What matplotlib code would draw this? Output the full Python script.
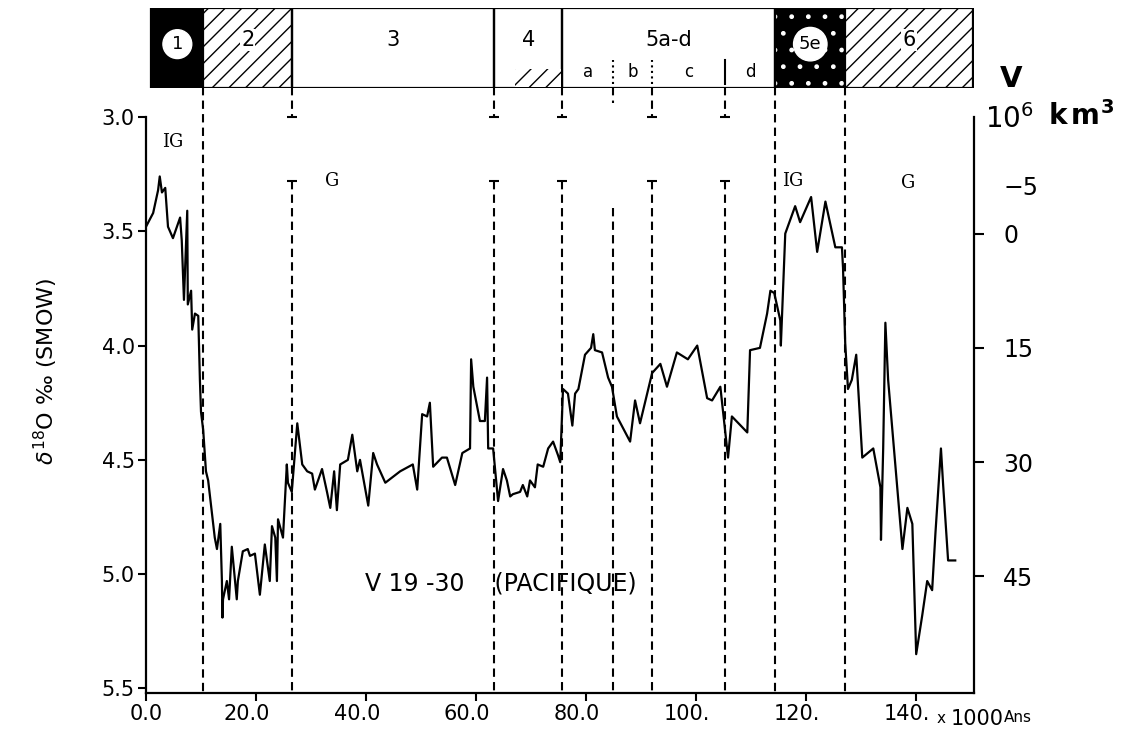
import matplotlib.pyplot as plt
import matplotlib.transforms as mtransforms
from matplotlib.patches import Rectangle

# delta 18O record of core V19-30 (Pacific)
age_kyr = [0.0, 1.3, 2.2, 2.5, 2.9, 3.5, 4.0, 4.9, 6.2, 6.5, 6.9, 7.5, 7.6, 8.2, 8.4,
           8.9, 9.5, 9.8, 10.0, 10.4, 10.9, 11.3, 12.5, 12.9, 13.5, 13.8, 13.9, 14.0,
           14.7, 15.1, 15.6, 16.5, 16.7, 17.6, 18.5, 18.9, 19.8, 20.7, 21.6, 22.5,
           22.9, 23.5, 23.8, 24.0, 24.9, 25.6, 25.8, 26.5, 27.5, 28.4, 29.3, 30.2,
           30.7, 32.0, 32.9, 33.5, 34.2, 34.7, 35.3, 36.7, 37.5, 38.4, 38.9, 40.4,
           41.3, 42.0, 43.5, 46.2, 48.5, 49.3, 50.2, 51.1, 51.6, 52.2, 53.8, 54.7,
           56.2, 57.5, 58.9, 59.1, 59.5, 60.7, 61.6, 62.0, 62.2, 63.1, 64.0, 64.9,
           65.6, 66.2, 66.7, 68.0, 68.5, 69.3, 69.8, 70.7, 71.2, 72.2, 73.1, 74.0,
           74.9, 75.3, 75.8, 76.7, 77.5, 78.0, 78.6, 79.8, 80.9, 81.3, 81.6, 82.9,
           84.0, 84.7, 85.6, 88.0, 88.9, 89.8, 92.0, 93.5, 94.7, 96.5, 98.5, 100.2,
           102.0, 102.9, 104.4, 105.8, 106.5, 109.3, 109.8, 111.6, 112.9, 113.5,
           114.2, 115.3, 115.4, 116.2, 118.0, 118.9, 120.9, 122.0, 123.5, 125.3,
           126.5, 126.7, 127.1, 127.6, 128.3, 129.1, 130.2, 132.2, 133.5, 133.6,
           134.0, 134.4, 134.9, 137.5, 138.4, 139.3, 140.0, 141.1, 142.0, 142.9,
           143.5, 144.5, 144.9, 145.8, 147.1]
d18o = [3.48, 3.42, 3.32, 3.26, 3.33, 3.31, 3.48, 3.53, 3.44, 3.54, 3.80, 3.41, 3.82,
        3.76, 3.93, 3.86, 3.87, 4.15, 4.29, 4.37, 4.55, 4.59, 4.84, 4.89, 4.78, 5.03,
        5.19, 5.11, 5.03, 5.11, 4.88, 5.11, 5.03, 4.90, 4.89, 4.92, 4.91, 5.09, 4.87,
        5.03, 4.79, 4.84, 5.03, 4.76, 4.84, 4.52, 4.60, 4.64, 4.34, 4.52, 4.55, 4.56,
        4.63, 4.54, 4.64, 4.71, 4.55, 4.72, 4.52, 4.50, 4.39, 4.55, 4.50, 4.70,
        4.47, 4.52, 4.60, 4.55, 4.52, 4.63, 4.30, 4.31, 4.25, 4.53, 4.49, 4.49,
        4.61, 4.47, 4.45, 4.06, 4.18, 4.33, 4.33, 4.14, 4.45, 4.45, 4.68, 4.54,
        4.59, 4.66, 4.65, 4.64, 4.61, 4.66, 4.59, 4.62, 4.52, 4.53, 4.45, 4.42,
        4.48, 4.51, 4.19, 4.21, 4.35, 4.21, 4.19, 4.04, 4.01, 3.95, 4.02, 4.03,
        4.14, 4.18, 4.31, 4.42, 4.24, 4.34, 4.12, 4.08, 4.18, 4.03, 4.06, 4.00,
        4.23, 4.24, 4.18, 4.49, 4.31, 4.38, 4.02, 4.01, 3.86, 3.76,
        3.77, 3.89, 4.00, 3.51, 3.39, 3.46, 3.35, 3.59, 3.37, 3.57,
        3.57, 3.66, 3.99, 4.19, 4.15, 4.04, 4.49, 4.45, 4.62, 4.85,
        4.45, 3.90, 4.15, 4.89, 4.71, 4.78, 5.35, 5.18, 5.03, 5.07,
        4.82, 4.45, 4.61, 4.94, 4.94]

x_ticks = [0, 20, 40, 60, 80, 100, 120, 140]
x_tick_labels = ["0.0", "20.0", "40.0", "60.0", "80.0", "100.", "120.", "140."]
y_ticks = [3.0, 3.5, 4.0, 4.5, 5.0, 5.5]
y_tick_labels = ["3.0", "3.5", "4.0", "4.5", "5.0", "5.5"]
vol_ticks = [0, 15, 30, 45]

# isotope stages shown in the top bar
stage_names = ["1", "2", "3", "4", "5a-d", "5e", "6"]
stage_edges = [1.0, 10.4, 26.6, 63.3, 75.7, 114.4, 127.1, 150.3]
substage_names = ["a", "b", "c", "d"]
substage_edges = [75.7, 84.9, 92.0, 105.3, 114.4]

# dashed boundaries: full ones, and ones interrupted between 3.0 and ~3.3
full_bounds = [10.4, 114.4, 127.1]
split_bounds = [26.6, 63.3, 75.7, 92.0, 105.3]

climate_labels = ["IG", "G", "IG", "G"]
climate_x = [4.9, 33.8, 117.5, 138.5]
climate_y = [3.11, 3.28, 3.28, 3.29]

fig = plt.figure(figsize=(11.37, 7.35), dpi=100)
ax = fig.add_axes([0.1284, 0.0571, 0.7282, 0.7837])
bar = fig.add_axes([0.1284, 0.880, 0.7282, 0.109])

# --- main record
ax.plot(age_kyr, d18o, color="black", lw=1.6)
ax.set_xlim(0, 150.5)
ax.set_ylim(5.52, 3.0)

dash = (0, (4, 2.5))
for xb in full_bounds:
    ax.plot([xb, xb], [2.87, 5.52], color="black", lw=1.5, linestyle=dash, clip_on=False)
for xb in split_bounds:
    ax.plot([xb, xb], [2.87, 3.0], color="black", lw=1.5, linestyle=dash, clip_on=False)
    ax.plot([xb], [3.0], marker="_", ms=7, mew=1.5, color="black", clip_on=False)
    ax.plot([xb, xb], [3.28, 5.52], color="black", lw=1.5, linestyle=dash)
    ax.plot([xb], [3.28], marker="_", ms=7, mew=1.5, color="black")
# substage a/b boundary
ax.plot([84.9, 84.9], [2.87, 2.94], color="black", lw=1.5, linestyle=dash, clip_on=False)
ax.plot([84.9, 84.9], [3.40, 5.52], color="black", lw=1.5, linestyle=dash)

for lab, xl, yl in zip(climate_labels, climate_x, climate_y):
    ax.text(xl, yl, lab, fontsize=13, ha="center", va="center", family="DejaVu Serif")

ax.text(64.5, 5.04, "V 19 -30    (PACIFIQUE)", fontsize=17, ha="center", va="center")

ax.spines["top"].set_visible(False)
ax.spines["right"].set_visible(False)
for s in ["left", "bottom"]:
    ax.spines[s].set_linewidth(1.6)
ax.set_xticks(x_ticks)
ax.set_xticklabels(x_tick_labels, fontsize=15)
ax.set_yticks(y_ticks)
ax.set_yticklabels(y_tick_labels, fontsize=15)
ax.tick_params(direction="out", length=6, width=1.5, pad=2)

# the printed tick labels sit a little left of their ticks
shift = mtransforms.ScaledTranslation(-0.09, 0, fig.dpi_scale_trans)
for lab in ax.get_xticklabels()[1:]:
    lab.set_transform(lab.get_transform() + shift)

# ice volume scale on the right
vol = ax.secondary_yaxis("right", functions=(lambda d: (d - 3.51) * 30,
                                             lambda v: v / 30 + 3.51))
vol.set_yticks(vol_ticks)
vol.set_yticklabels([str(v) for v in vol_ticks], fontsize=17)
vol.tick_params(direction="out", length=7, width=1.5, pad=14)
vol.spines["right"].set_linewidth(1.6)
ax.annotate("\u22125", xy=(1, 3.31), xycoords=ax.get_yaxis_transform(),
            xytext=(21, 0), textcoords="offset points", fontsize=17, va="center")

fig.text(0.889, 0.893, "V", fontsize=21, fontweight="bold", ha="center", va="center")
fig.text(0.866, 0.838, r"$10^6$", fontsize=20, va="center")
fig.text(0.922, 0.842, r"$\mathbf{k\,m^3}$", fontsize=20, va="center")

fig.text(0.040, 0.495, r"$\delta^{18}$O ‰ (SMOW)", fontsize=16, rotation=90,
         ha="center", va="center")
fig.text(0.824, 0.022, "x", fontsize=11, va="center")
fig.text(0.836, 0.022, "1000", fontsize=15, va="center")
fig.text(0.883, 0.024, "Ans", fontsize=11, va="center")

# --- stage bar
bar.set_xlim(0, 150.5)
bar.set_ylim(0, 1)
bar.axis("off")
for name, x0, x1 in zip(stage_names, stage_edges[:-1], stage_edges[1:]):
    if name in ("1", "5e"):
        bar.add_patch(Rectangle((x0, 0), x1 - x0, 1, facecolor="black", edgecolor="white",
                                hatch="." if name == "5e" else None, lw=0))
        bar.text((x0 + x1) / 2, 0.55, name, fontsize=13, ha="center", va="center",
                 bbox=dict(boxstyle="circle,pad=0.3", fc="white", ec="white"))
    elif name in ("2", "6"):
        bar.add_patch(Rectangle((x0, 0), x1 - x0, 1, facecolor="white", edgecolor="black",
                                hatch="//", lw=0))
        bar.text((x0 + x1) / 2, 0.6, name, fontsize=15, ha="center", va="center",
                 bbox=dict(boxstyle="square,pad=0.05", fc="white", ec="none"))
    else:
        bar.text((x0 + x1) / 2, 0.6, name, fontsize=15, ha="center", va="center")
    bar.add_patch(Rectangle((x0, 0), x1 - x0, 1, fill=False, edgecolor="black", lw=1.6))

# little hatch at the bottom of stage 4
bar.add_patch(Rectangle((67.0, 0.02), 8.5, 0.22, facecolor="white", edgecolor="black",
                        hatch="//", lw=0))
for name, x0, x1 in zip(substage_names, substage_edges[:-1], substage_edges[1:]):
    bar.text((x0 + x1) / 2, 0.2, name, fontsize=12, ha="center", va="center")
for xs, st in zip(substage_edges[1:-1], [":", ":", "-"]):
    bar.plot([xs, xs], [0.05, 0.35], color="black", lw=1.5, linestyle=st)

fig.savefig("out.png", dpi=100)
